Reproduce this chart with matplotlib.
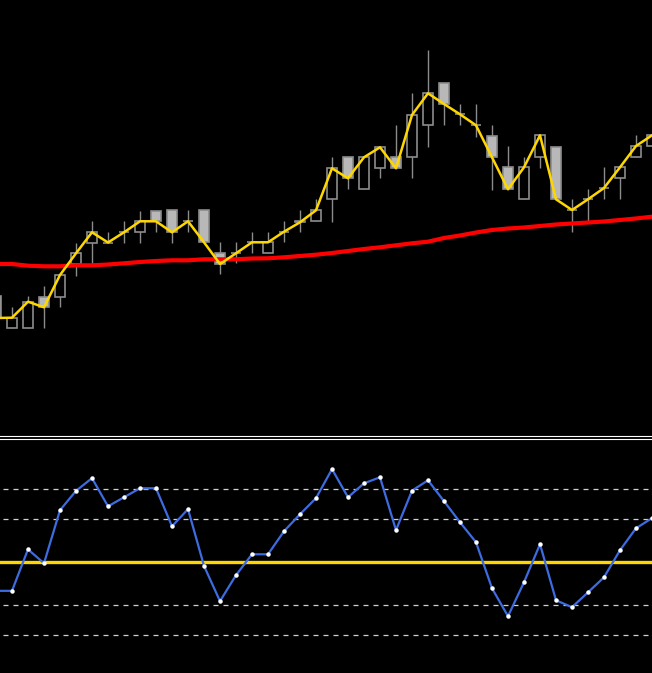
import matplotlib
matplotlib.use("Agg")
import matplotlib.pyplot as plt
from matplotlib.lines import Line2D
import numpy as np

# ---- data ----
idx = list(range(-1, 41))
opens = [204, 171.7, 171.7, 203.3, 203.3, 236, 256.7, 257.5, 267.7, 267.7, 288.7,
         289.7, 278.7, 289.7, 246.7, 246.7, 257.7, 246.7, 268.3, 279.3, 278.7,
         300.7, 342.7, 310.7, 331.7, 342.7, 342.7, 374.7, 416.7, 385.7, 374.7,
         363.7, 332.7, 300.7, 342.7, 353.3, 290, 300.7, 312, 322, 343.3, 354]
highs = [204, 193.3, 204, 214, 225, 256.7, 279, 268.3, 278.7, 288.7, 288.7,
         289.7, 290, 289.7, 257.7, 257.7, 268.3, 268.3, 279.3, 290, 300.7,
         342.7, 342.7, 342.7, 352.7, 375, 407.3, 450, 416.7, 396, 396,
         375, 354, 343.3, 365, 353.3, 300.7, 311.3, 333.3, 332.7, 365, 365]
lows = [182, 171.7, 171.7, 171.7, 192.7, 224, 236, 256.7, 256.7, 257.3, 267.7,
        257.3, 267.7, 257.7, 225.7, 236.7, 246.7, 246.7, 257.7, 267.7, 278.7,
        278.3, 310.7, 310.7, 321.7, 331.7, 321.7, 353.3, 374.7, 374.7, 363.3,
        310, 310.7, 300.7, 332.3, 300.7, 268.3, 279.3, 300.7, 300.7, 343.3, 354]
closes = [182, 182.3, 198.3, 192.7, 225, 246.7, 267.7, 257.5, 267.7, 278.7, 278.7,
          267.7, 278.7, 257.7, 236, 246.7, 257.7, 257.7, 268.3, 277.7, 289.7,
          331.7, 321.7, 342.7, 352.7, 331.7, 385, 406.7, 396, 385.7, 374.7,
          342.7, 310.7, 332.7, 364.7, 300.7, 290, 300.7, 312, 332.7, 354, 364.7]
ma = [236, 236, 234.3, 233.7, 233.7, 234.7, 234.7, 235.5, 236.7, 238, 239,
      239.7, 239.7, 240.7, 240.7, 240.7, 241.5, 241.7, 242.7, 244, 245.3,
      247, 249, 251, 252.7, 254.7, 256.7, 258.3, 262, 264.5, 267.5,
      270, 271.5, 272.5, 274, 275.5, 276.5, 277.5, 278.5, 280, 281.5, 283.3]
osc = [36.7, 36.7, 56.0, 49.5, 74.2, 83.2, 89.1, 76.0, 80.2, 84.4, 84.4,
       66.7, 74.7, 48.3, 31.9, 44.0, 53.7, 53.7, 64.4, 72.3, 79.8,
       93.3, 80.2, 86.7, 89.5, 64.9, 83.3, 88.1, 78.4, 68.6, 59.3,
       37.9, 24.9, 40.7, 58.4, 32.3, 29.1, 36.0, 43.0, 55.6, 65.8, 70.5]
mid_level = 50
dash_levels = [84, 70, 30, 16]

W, H = 652, 673
fig = plt.figure(figsize=(W / 100, H / 100), dpi=100, facecolor="black")

top_h = 435
ax = fig.add_axes([0, 1 - top_h / H, 1, top_h / H], facecolor="black")
bot_top = 439
ax2 = fig.add_axes([0, 0, 1, 1 - bot_top / H], facecolor="black")

x = np.array(idx, dtype=float)
o = np.array(opens); c = np.array(closes); h = np.array(highs); l = np.array(lows)

edge = "#8c8c8c"
fillc = "#b8b8b8"
cw = 0.62

# wicks
ax.vlines(x, l, h, color=edge, lw=1.0, zorder=1)
# bodies
for xi, oi, ci in zip(x, o, c):
    if abs(ci - oi) < 0.5:
        ax.hlines(oi, xi - cw / 2, xi + cw / 2, color=edge, lw=1.2, zorder=2)
    elif ci > oi:
        ax.bar(xi, ci - oi, bottom=oi, width=cw, facecolor="black",
               edgecolor=edge, lw=1.2, zorder=2)
    else:
        ax.bar(xi, oi - ci, bottom=ci, width=cw, facecolor=fillc,
               edgecolor=edge, lw=1.2, zorder=2)

ax.plot(x, ma, color="#ff0000", lw=3.0, zorder=3)
ax.plot(x, c, color="#ffd700", lw=1.8, zorder=4)

ax.set_xlim(-0.75, 40)
ax.set_ylim(65, 500)
ax.axis("off")

# lower panel
for lv in dash_levels:
    ax2.axhline(lv, xmin=0.005, color="#d0d0d0", lw=0.9, ls=(0, (4, 4)), zorder=1)
ax2.axhline(mid_level, color="#ffd700", lw=2.4, zorder=2)
ax2.plot(x, osc, color="#3d6be0", lw=1.6, zorder=3)
ax2.plot(x, osc, ls="none", marker="o", ms=2.2, mfc="white", mec="white", zorder=4)
ax2.set_xlim(-0.75, 40)
ax2.set_ylim(-1.5, 107.3)
ax2.axis("off")

# separator double line
for yp in (436.3, 438.5):
    fig.add_artist(Line2D([0, 1], [1 - yp / H, 1 - yp / H], transform=fig.transFigure,
                          color="white", lw=0.8))

fig.savefig("out.png", dpi=100, facecolor="black")
